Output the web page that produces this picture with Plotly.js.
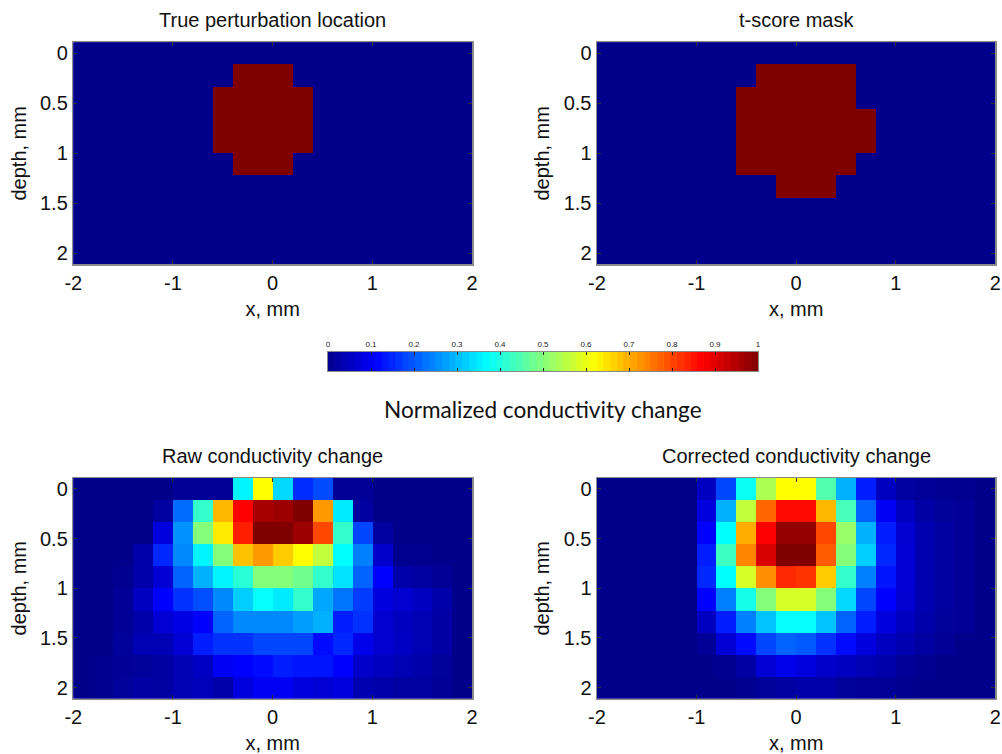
<!DOCTYPE html>
<html>
<head>
<meta charset="utf-8">
<script src="https://cdn.plot.ly/plotly-3.0.1.min.js"></script>
<style>html,body{margin:0;padding:0;background:#fff}</style>
</head>
<body>
<div id="chart" style="width:1002px;height:754px"></div>
<script>
const xCenters = [-1.9,-1.7,-1.5,-1.3,-1.1,-0.9,-0.7,-0.5,-0.3,-0.1,0.1,0.3,0.5,0.7,0.9,1.1,1.3,1.5,1.7,1.9];
const depths = [0,0.222,0.444,0.667,0.889,1.111,1.333,1.556,1.778,2];
const xTicks = [-2,-1,0,1,2];
const depthTicks = [0,0.5,1,1.5,2];
const depthTickLabels = ['0','0.5','1','1.5','2'];
const barTicks = [0,0.1,0.2,0.3,0.4,0.5,0.6,0.7,0.8,0.9,1];
const barTickLabels = ['0','0.1','0.2','0.3','0.4','0.5','0.6','0.7','0.8','0.9','1'];
const barLevels = [0.008,0.023,0.039,0.055,0.07,0.086,0.102,0.117,0.133,0.148,0.164,0.18,0.195,0.211,0.227,0.242,0.258,0.273,0.289,0.305,0.32,0.336,0.352,0.367,0.383,0.398,0.414,0.43,0.445,0.461,0.477,0.492,0.508,0.523,0.539,0.555,0.57,0.586,0.602,0.617,0.633,0.648,0.664,0.68,0.695,0.711,0.727,0.742,0.758,0.773,0.789,0.805,0.82,0.836,0.852,0.867,0.883,0.898,0.914,0.93,0.945,0.961,0.977,0.992];

const trueMask = [
 [0,0,0,0,0,0,0,0,0,0,0,0,0,0,0,0,0,0,0,0],
 [0,0,0,0,0,0,0,0,1,1,1,0,0,0,0,0,0,0,0,0],
 [0,0,0,0,0,0,0,1,1,1,1,1,0,0,0,0,0,0,0,0],
 [0,0,0,0,0,0,0,1,1,1,1,1,0,0,0,0,0,0,0,0],
 [0,0,0,0,0,0,0,1,1,1,1,1,0,0,0,0,0,0,0,0],
 [0,0,0,0,0,0,0,0,1,1,1,0,0,0,0,0,0,0,0,0],
 [0,0,0,0,0,0,0,0,0,0,0,0,0,0,0,0,0,0,0,0],
 [0,0,0,0,0,0,0,0,0,0,0,0,0,0,0,0,0,0,0,0],
 [0,0,0,0,0,0,0,0,0,0,0,0,0,0,0,0,0,0,0,0],
 [0,0,0,0,0,0,0,0,0,0,0,0,0,0,0,0,0,0,0,0]];
const tScoreMask = [
 [0,0,0,0,0,0,0,0,0,0,0,0,0,0,0,0,0,0,0,0],
 [0,0,0,0,0,0,0,0,1,1,1,1,1,0,0,0,0,0,0,0],
 [0,0,0,0,0,0,0,1,1,1,1,1,1,0,0,0,0,0,0,0],
 [0,0,0,0,0,0,0,1,1,1,1,1,1,1,0,0,0,0,0,0],
 [0,0,0,0,0,0,0,1,1,1,1,1,1,1,0,0,0,0,0,0],
 [0,0,0,0,0,0,0,1,1,1,1,1,1,0,0,0,0,0,0,0],
 [0,0,0,0,0,0,0,0,0,1,1,1,0,0,0,0,0,0,0,0],
 [0,0,0,0,0,0,0,0,0,0,0,0,0,0,0,0,0,0,0,0],
 [0,0,0,0,0,0,0,0,0,0,0,0,0,0,0,0,0,0,0,0],
 [0,0,0,0,0,0,0,0,0,0,0,0,0,0,0,0,0,0,0,0]];
const rawChange = [
 [0,0,0,0,0,0.01,0.01,0.01,0.36,0.62,0.33,0.155,0.185,0.01,0.01,0,0,0,0,0],
 [0,0,0,0,0.02,0.22,0.42,0.69,0.87,0.96,0.97,1,0.72,0.35,0.02,0,0,0,0,0],
 [0,0,0,0,0.08,0.26,0.5,0.64,0.84,1,1,0.97,0.8,0.42,0.18,0.02,0,0,0,0],
 [0,0,0,0.03,0.15,0.25,0.36,0.5,0.68,0.72,0.67,0.62,0.56,0.37,0.24,0.06,0.005,0.005,0,0],
 [0,0,0.005,0.03,0.07,0.21,0.29,0.36,0.41,0.5,0.5,0.48,0.42,0.34,0.21,0.11,0.03,0.02,0.01,0],
 [0,0,0.01,0.05,0.11,0.16,0.19,0.25,0.32,0.375,0.35,0.42,0.28,0.23,0.17,0.08,0.065,0.05,0.03,0],
 [0,0,0.01,0.03,0.07,0.085,0.11,0.21,0.25,0.25,0.25,0.27,0.29,0.14,0.16,0.065,0.05,0.04,0.025,0],
 [0,0,0.015,0.04,0.04,0.07,0.14,0.16,0.16,0.18,0.18,0.18,0.12,0.15,0.09,0.065,0.055,0.04,0.025,0],
 [0,0.005,0.01,0.015,0.02,0.04,0.055,0.1,0.11,0.12,0.14,0.13,0.13,0.11,0.06,0.05,0.04,0.03,0.015,0],
 [0,0.005,0.015,0.025,0.02,0.04,0.045,0.03,0.08,0.1,0.1,0.08,0.07,0.08,0.035,0.03,0.02,0.02,0.01,0]];
const correctedChange = [
 [0,0,0,0,0,0.05,0.18,0.38,0.54,0.62,0.62,0.45,0.29,0.14,0.05,0.02,0.012,0.008,0.005,0],
 [0,0,0,0,0,0.08,0.29,0.56,0.77,0.86,0.86,0.69,0.44,0.21,0.1,0.05,0.025,0.015,0.01,0],
 [0,0,0,0,0,0.11,0.37,0.7,0.87,0.98,0.98,0.8,0.52,0.29,0.14,0.065,0.035,0.02,0.01,0],
 [0,0,0,0,0,0.14,0.43,0.74,0.91,1,1,0.78,0.5,0.32,0.15,0.07,0.035,0.02,0.01,0],
 [0,0,0,0,0,0.15,0.37,0.58,0.73,0.83,0.82,0.67,0.42,0.24,0.13,0.07,0.035,0.02,0.01,0],
 [0,0,0,0,0,0.11,0.24,0.39,0.5,0.58,0.58,0.5,0.33,0.18,0.11,0.065,0.035,0.02,0.01,0],
 [0,0,0,0,0,0.05,0.14,0.24,0.31,0.375,0.375,0.31,0.21,0.14,0.08,0.05,0.03,0.015,0.01,0],
 [0,0,0,0,0,0.01,0.07,0.12,0.18,0.21,0.2,0.16,0.12,0.08,0.05,0.035,0.02,0.01,0,0],
 [0,0,0,0,0,0,0.005,0.025,0.07,0.09,0.08,0.06,0.05,0.04,0.03,0.012,0.005,0,0,0],
 [0,0,0,0,0,0,0,0.005,0.015,0.02,0.03,0.03,0.015,0.012,0.01,0.005,0,0,0,0]];

const panelTitles = ['True perturbation location','t-score mask','Raw conductivity change','Corrected conductivity change'];
const barCaption = 'Normalized conductivity change';
const jet = [[0,'#00008b'],[0.11,'#0000ff'],[0.37,'#00ffff'],[0.62,'#ffff00'],[0.87,'#ff0000'],[1,'#800000']];

const W = 1002, H = 754;
const FONT = '"Liberation Sans", Arial, sans-serif';
const boxes = [
 {l:73.3,r:472,t:42.3,b:264.3},
 {l:597,r:995.3,t:42.3,b:264.3},
 {l:73.3,r:472,t:478,b:698.5},
 {l:597,r:995.3,t:478,b:698.5}];
const grids = [trueMask,tScoreMask,rawChange,correctedChange];

const traces = grids.map((z,i)=>({
  type:'heatmap', x:xCenters, y:depths, z:z, coloraxis:'coloraxis',
  xaxis:i?'x'+(i+1):'x', yaxis:i?'y'+(i+1):'y'
}));
traces.push({type:'heatmap', x:barLevels, y:['scale'], z:[barLevels], coloraxis:'coloraxis', xaxis:'x5', yaxis:'y5'});

const layout = {
  width:W, height:H, margin:{l:0,r:0,t:0,b:0}, paper_bgcolor:'#fff', plot_bgcolor:'#00008b',
  font:{family:FONT,size:20,color:'#111'}, showlegend:false,
  coloraxis:{cmin:0,cmax:1,colorscale:jet,showscale:false},
  xaxis5:{domain:[328/W,758/W],range:[0,1],anchor:'y5',side:'top',tickmode:'array',tickvals:barTicks,ticktext:barTickLabels,
    ticks:'inside',ticklen:3,tickcolor:'#222',tickwidth:1,showline:true,linecolor:'#8a8a8a',linewidth:1,mirror:'allticks',
    showgrid:false,zeroline:false,tickfont:{size:8,family:FONT,color:'#222'},ticklabelstandoff:1},
  yaxis5:{domain:[1-371/H,1-352/H],anchor:'x5',showticklabels:false,ticks:'',showline:true,linecolor:'#8a8a8a',linewidth:1,mirror:true,showgrid:false,zeroline:false},
  annotations:[{text:barCaption,xref:'paper',yref:'paper',x:543/W,y:1-410/H,xanchor:'center',yanchor:'middle',
    showarrow:false,font:{family:'Lato, "Open Sans", sans-serif',size:22.6,color:'#111'}}]
};
boxes.forEach((b,i)=>{
  const s = i ? String(i+1) : '';
  layout['xaxis'+s] = {domain:[b.l/W,b.r/W],range:[-2,2],anchor:'y'+s,tickmode:'array',tickvals:xTicks,
    ticktext:xTicks.map(String),ticks:'inside',ticklen:4,tickcolor:'#333',showline:true,linecolor:'#8a8a8a',linewidth:1.5,
    mirror:'allticks',showgrid:false,zeroline:false,tickfont:{size:20,family:FONT},
    title:{text:'x, mm',font:{size:20,family:FONT},standoff:8.5}};
  layout['yaxis'+s] = {domain:[1-b.b/H,1-b.t/H],range:[2.11,-0.11],anchor:'x'+s,tickmode:'array',tickvals:depthTicks,
    ticktext:depthTickLabels,ticks:'inside',ticklen:4,tickcolor:'#333',showline:true,linecolor:'#8a8a8a',linewidth:1.5,
    mirror:'allticks',showgrid:false,zeroline:false,tickfont:{size:20,family:FONT},
    title:{text:'depth, mm',font:{size:20,family:FONT},standoff:8}};
  layout.annotations.push({text:panelTitles[i],xref:'paper',yref:'paper',x:(b.l+b.r)/2/W,y:1-(b.t-22.5)/H,
    xanchor:'center',yanchor:'middle',showarrow:false,font:{size:20,family:FONT,color:'#111'}});
});
Plotly.newPlot('chart',traces,layout,{displayModeBar:false,staticPlot:true});
</script>
</body>
</html>
